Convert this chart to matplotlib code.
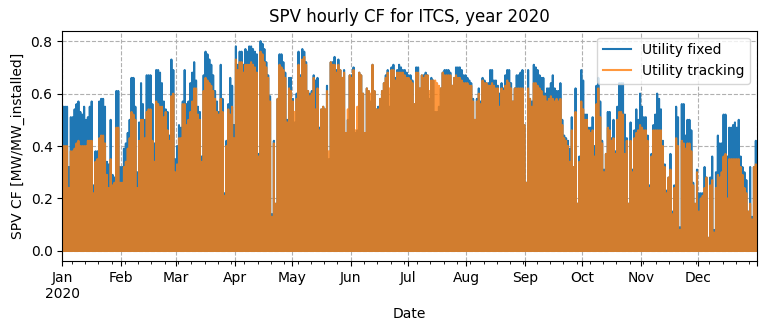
import numpy as np
import pandas as pd
import matplotlib
matplotlib.use('Agg')
import matplotlib.pyplot as plt


# daily peak capacity factor (MW/MW_installed), one value per day
fixed_peak = [
    # Jan
    0.55, 0.55, 0.55, 0.32, 0.51, 0.51, 0.54, 0.56, 0.57, 0.53, 0.52, 0.55, 0.50, 0.51, 0.55, 0.57,
    0.25, 0.38, 0.38, 0.57, 0.58, 0.58, 0.55, 0.34, 0.33, 0.50, 0.29, 0.28, 0.61, 0.61, 0.32,
    # Feb
    0.32, 0.39, 0.41, 0.45, 0.50, 0.66, 0.66, 0.55, 0.30, 0.49, 0.64, 0.56, 0.50, 0.67, 0.67,
    0.67, 0.56, 0.41, 0.69, 0.69, 0.68, 0.64, 0.57, 0.54, 0.53, 0.44, 0.73, 0.69, 0.35,
    # Mar
    0.40, 0.48, 0.47, 0.57, 0.69, 0.56, 0.57, 0.64, 0.68, 0.72, 0.65, 0.55, 0.53, 0.36, 0.67, 0.76,
    0.75, 0.73, 0.71, 0.67, 0.61, 0.57, 0.53, 0.71, 0.58, 0.22, 0.42, 0.56, 0.66, 0.63, 0.48,
    # Apr
    0.78, 0.71, 0.76, 0.76, 0.71, 0.77, 0.76, 0.78, 0.78, 0.77, 0.76, 0.75, 0.37, 0.80, 0.79,
    0.77, 0.72, 0.67, 0.59, 0.14, 0.42, 0.18, 0.58, 0.75, 0.75, 0.72, 0.68, 0.50, 0.66, 0.66,
    # May
    0.58, 0.49, 0.60, 0.76, 0.67, 0.77, 0.76, 0.72, 0.61, 0.60, 0.61, 0.67, 0.65, 0.66, 0.47, 0.54,
    0.55, 0.54, 0.63, 0.35, 0.72, 0.72, 0.74, 0.69, 0.73, 0.69, 0.66, 0.69, 0.45, 0.50, 0.67,
    # Jun
    0.67, 0.70, 0.45, 0.46, 0.68, 0.67, 0.60, 0.45, 0.62, 0.61, 0.57, 0.71, 0.61, 0.54, 0.55,
    0.58, 0.61, 0.64, 0.67, 0.69, 0.55, 0.70, 0.71, 0.66, 0.69, 0.71, 0.70, 0.69, 0.69, 0.68,
    # Jul
    0.67, 0.67, 0.65, 0.56, 0.70, 0.70, 0.62, 0.67, 0.67, 0.68, 0.67, 0.58, 0.66, 0.65, 0.53, 0.53,
    0.55, 0.62, 0.68, 0.69, 0.69, 0.69, 0.68, 0.63, 0.66, 0.70, 0.70, 0.70, 0.69, 0.67, 0.67,
    # Aug
    0.66, 0.65, 0.64, 0.58, 0.50, 0.58, 0.62, 0.57, 0.66, 0.65, 0.64, 0.64, 0.69, 0.69, 0.65, 0.65,
    0.63, 0.60, 0.64, 0.62, 0.67, 0.69, 0.69, 0.64, 0.57, 0.62, 0.67, 0.67, 0.68, 0.69, 0.48,
    # Sep
    0.26, 0.69, 0.58, 0.57, 0.71, 0.70, 0.69, 0.67, 0.66, 0.66, 0.60, 0.62, 0.62, 0.64, 0.67,
    0.62, 0.61, 0.61, 0.64, 0.50, 0.44, 0.43, 0.42, 0.39, 0.51, 0.32, 0.62, 0.18, 0.36, 0.69,
    # Oct
    0.65, 0.52, 0.52, 0.47, 0.47, 0.51, 0.40, 0.63, 0.66, 0.57, 0.42, 0.31, 0.37, 0.53, 0.53, 0.43,
    0.50, 0.38, 0.55, 0.64, 0.64, 0.64, 0.52, 0.43, 0.18, 0.49, 0.31, 0.46, 0.54, 0.50, 0.60,
    # Nov
    0.55, 0.51, 0.51, 0.44, 0.25, 0.37, 0.48, 0.52, 0.60, 0.58, 0.54, 0.42, 0.33, 0.23, 0.28,
    0.37, 0.15, 0.25, 0.55, 0.51, 0.09, 0.56, 0.56, 0.44, 0.50, 0.50, 0.46, 0.26, 0.18, 0.31,
    # Dec
    0.22, 0.22, 0.22, 0.32, 0.28, 0.05, 0.28, 0.36, 0.08, 0.30, 0.44, 0.41, 0.41, 0.52, 0.52, 0.36,
    0.47, 0.47, 0.48, 0.49, 0.47, 0.50, 0.36, 0.32, 0.30, 0.27, 0.15, 0.32, 0.13, 0.32, 0.42,
]

tracking_peak = [
    # Jan
    0.40, 0.40, 0.40, 0.24, 0.38, 0.38, 0.39, 0.41, 0.42, 0.40, 0.40, 0.40, 0.40, 0.42, 0.42, 0.42,
    0.22, 0.34, 0.35, 0.43, 0.44, 0.44, 0.41, 0.29, 0.24, 0.35, 0.25, 0.26, 0.47, 0.47, 0.26,
    # Feb
    0.26, 0.32, 0.34, 0.39, 0.43, 0.53, 0.52, 0.50, 0.24, 0.42, 0.50, 0.50, 0.43, 0.53, 0.54,
    0.54, 0.42, 0.34, 0.57, 0.56, 0.55, 0.55, 0.51, 0.53, 0.46, 0.42, 0.59, 0.60, 0.30,
    # Mar
    0.33, 0.43, 0.43, 0.56, 0.56, 0.48, 0.50, 0.53, 0.57, 0.62, 0.62, 0.52, 0.50, 0.34, 0.61, 0.66,
    0.65, 0.64, 0.63, 0.61, 0.58, 0.53, 0.52, 0.58, 0.53, 0.21, 0.40, 0.54, 0.52, 0.55, 0.43,
    # Apr
    0.73, 0.69, 0.72, 0.72, 0.68, 0.71, 0.71, 0.71, 0.72, 0.71, 0.70, 0.68, 0.36, 0.76, 0.75,
    0.72, 0.70, 0.66, 0.57, 0.13, 0.41, 0.18, 0.58, 0.71, 0.70, 0.69, 0.66, 0.49, 0.62, 0.61,
    # May
    0.57, 0.53, 0.58, 0.71, 0.66, 0.73, 0.74, 0.71, 0.61, 0.59, 0.60, 0.66, 0.54, 0.62, 0.46, 0.54,
    0.55, 0.54, 0.61, 0.38, 0.72, 0.71, 0.71, 0.68, 0.71, 0.69, 0.66, 0.68, 0.45, 0.54, 0.67,
    # Jun
    0.66, 0.69, 0.46, 0.55, 0.68, 0.67, 0.60, 0.45, 0.62, 0.61, 0.60, 0.71, 0.61, 0.54, 0.54,
    0.58, 0.61, 0.64, 0.66, 0.68, 0.62, 0.69, 0.69, 0.65, 0.68, 0.68, 0.68, 0.68, 0.67, 0.66,
    # Jul
    0.66, 0.65, 0.64, 0.56, 0.68, 0.68, 0.62, 0.67, 0.66, 0.67, 0.67, 0.61, 0.65, 0.65, 0.65, 0.64,
    0.63, 0.62, 0.68, 0.67, 0.67, 0.67, 0.67, 0.63, 0.66, 0.67, 0.66, 0.66, 0.65, 0.64, 0.64,
    # Aug
    0.64, 0.63, 0.63, 0.57, 0.50, 0.57, 0.60, 0.56, 0.65, 0.64, 0.64, 0.63, 0.63, 0.64, 0.63, 0.62,
    0.62, 0.55, 0.62, 0.61, 0.63, 0.65, 0.64, 0.62, 0.57, 0.62, 0.62, 0.62, 0.62, 0.62, 0.48,
    # Sep
    0.26, 0.62, 0.58, 0.55, 0.64, 0.64, 0.63, 0.62, 0.61, 0.59, 0.59, 0.57, 0.58, 0.59, 0.58,
    0.57, 0.58, 0.57, 0.58, 0.48, 0.43, 0.42, 0.40, 0.34, 0.46, 0.32, 0.53, 0.18, 0.34, 0.57,
    # Oct
    0.54, 0.50, 0.50, 0.46, 0.45, 0.46, 0.36, 0.56, 0.62, 0.51, 0.41, 0.30, 0.37, 0.47, 0.46, 0.42,
    0.43, 0.37, 0.50, 0.53, 0.53, 0.52, 0.37, 0.42, 0.18, 0.42, 0.30, 0.43, 0.45, 0.46, 0.48,
    # Nov
    0.47, 0.46, 0.46, 0.42, 0.24, 0.36, 0.46, 0.46, 0.46, 0.46, 0.46, 0.40, 0.32, 0.22, 0.28,
    0.31, 0.14, 0.24, 0.43, 0.40, 0.08, 0.42, 0.41, 0.39, 0.41, 0.41, 0.38, 0.25, 0.18, 0.30,
    # Dec
    0.15, 0.20, 0.21, 0.24, 0.28, 0.05, 0.25, 0.27, 0.07, 0.24, 0.29, 0.28, 0.30, 0.36, 0.37, 0.20,
    0.35, 0.35, 0.35, 0.35, 0.35, 0.35, 0.32, 0.29, 0.24, 0.22, 0.15, 0.18, 0.12, 0.32, 0.33,
]

series_names = ['Utility fixed', 'Utility tracking']

# hourly index for the year, zero at night, daily peak at noon
hours = pd.date_range('2020-01-01 00:00', '2020-12-31 23:00', freq='h')
days = pd.date_range('2020-01-01', '2020-12-31', freq='D')
noon = days + pd.Timedelta(hours=12)

df = pd.DataFrame(0.0, index=hours, columns=series_names)
df.loc[noon, 'Utility fixed'] = fixed_peak
df.loc[noon, 'Utility tracking'] = tracking_peak

fig, ax = plt.subplots(figsize=(7.69, 3.3), dpi=100)
fig.subplots_adjust(left=0.081, right=0.984, top=0.907, bottom=0.208)

df['Utility fixed'].plot(ax=ax, color='#1f77b4', lw=1.5)
df['Utility tracking'].plot(ax=ax, color='#ff7f0e', lw=1.5, alpha=0.8)

ax.set_title('SPV hourly CF for ITCS, year 2020')
ax.set_ylabel('SPV CF [MW/MW_installed]')
ax.set_xlabel('Date')
ax.grid(True, linestyle='--')
ax.legend(loc='upper right')

fig.savefig('out.png', dpi=100)
